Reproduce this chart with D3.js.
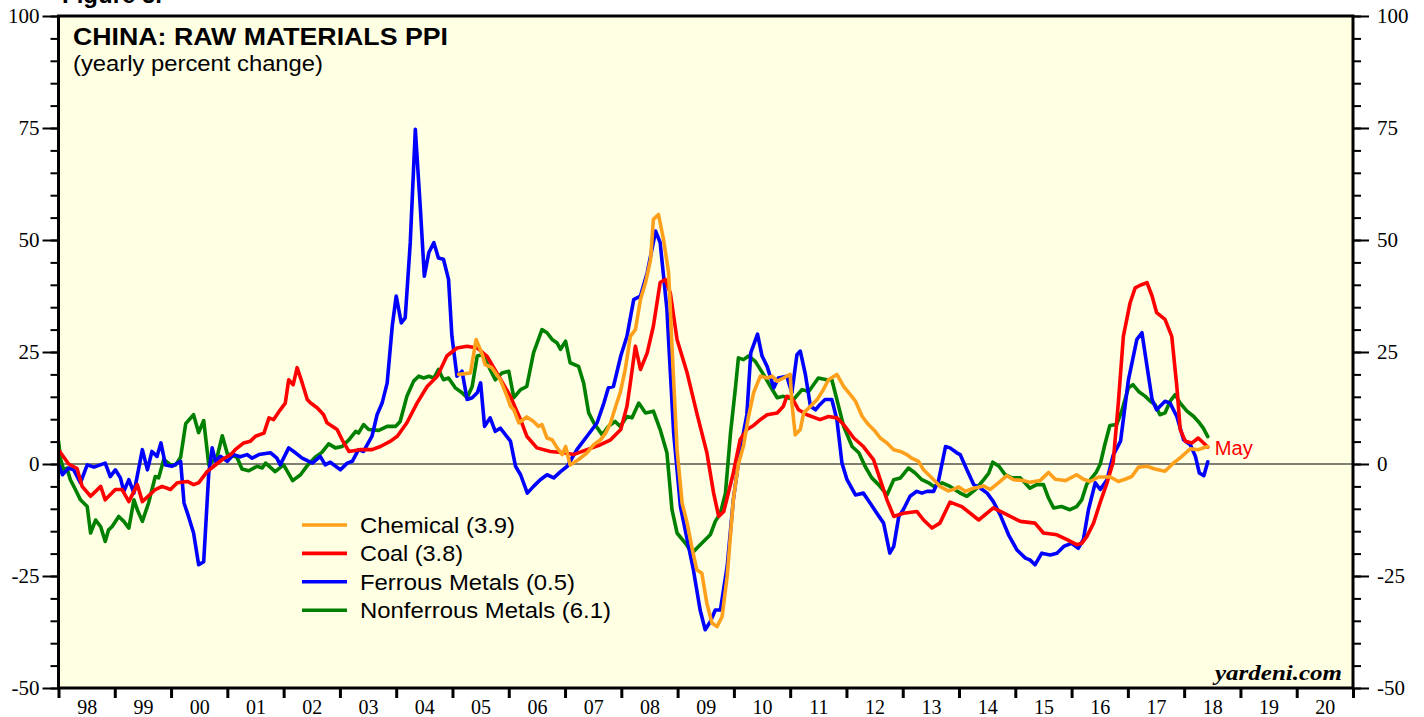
<!DOCTYPE html>
<html>
<head>
<meta charset="utf-8">
<script src="https://cdn.jsdelivr.net/npm/d3@7"></script>
<style>
  html, body { margin: 0; padding: 0; background: #fff; }
  svg { display: block; }
</style>
</head>
<body>
<svg id="chart" width="1424" height="717"></svg>
<script>
/* China: raw materials PPI, yearly percent change (monthly, 1998 - May 2018) */

const yearLabels = ['98','99','00','01','02','03','04','05','06','07','08','09','10','11','12','13','14','15','16','17','18','19','20'];
const legendLabels = ['Chemical (3.9)', 'Coal (3.8)', 'Ferrous Metals (0.5)', 'Nonferrous Metals (6.1)'];
const yTicks = [-50, -25, 0, 25, 50, 75, 100];

// [decimal year, % y/y]
const chemical = [
  [2005.11,20],[2005.32,20.3],[2005.42,27.8],[2005.53,24.4],[2005.58,22.2],[2005.70,21.5],[2005.85,18.8],[2005.97,15.1],
  [2006.03,12.9],[2006.09,12.1],[2006.18,9.2],[2006.32,10.5],[2006.44,9.5],[2006.53,8.4],[2006.59,8.8],[2006.68,5.8],
  [2006.77,5.4],[2006.86,3.6],[2006.95,2.1],[2007.01,3.9],[2007.09,-0.2],[2007.24,1],[2007.39,2.5],[2007.51,4.3],
  [2007.63,5.4],[2007.72,6.9],[2007.81,9.2],[2007.90,12.9],[2007.98,15.9],[2008.07,21.1],[2008.16,28.5],[2008.25,30],
  [2008.34,36.7],[2008.43,40.5],[2008.52,45.7],[2008.57,54.6],[2008.66,55.7],[2008.75,50.1],[2008.84,42.7],[2008.90,26.3],
  [2008.99,3.2],[2009.08,-8.7],[2009.17,-13.2],[2009.25,-18.4],[2009.34,-23.6],[2009.43,-24.4],[2009.52,-31.1],[2009.61,-35.5],
  [2009.70,-36.3],[2009.79,-34.1],[2009.88,-25.1],[2009.99,-8],[2010.08,0],[2010.17,4],[2010.26,10.6],[2010.35,15.9],
  [2010.47,19.6],[2010.59,19.2],[2010.68,19.6],[2010.77,18.5],[2010.88,19.2],[2011.00,20],[2011.03,13.6],[2011.09,6.5],
  [2011.18,7.7],[2011.24,11.4],[2011.33,12.5],[2011.48,14.4],[2011.59,16.6],[2011.68,18.8],[2011.83,20],[2011.95,17.3],
  [2012.07,15.5],[2012.16,14],[2012.28,10.6],[2012.39,8.8],[2012.51,7.3],[2012.60,5.8],[2012.72,4.7],[2012.84,3.2],
  [2012.96,2.8],[2013.07,2.1],[2013.16,1.3],[2013.28,0.6],[2013.37,-1.3],[2013.46,-2.4],[2013.58,-3.9],[2013.66,-5],
  [2013.81,-6],[2013.90,-5.7],[2013.99,-5.1],[2014.11,-6.1],[2014.26,-5.4],[2014.44,-4.9],[2014.55,-5.7],[2014.70,-4.2],
  [2014.85,-2.6],[2014.97,-3.5],[2015.14,-3.7],[2015.26,-4.1],[2015.44,-3.7],[2015.59,-1.9],[2015.71,-3.4],[2015.89,-3.7],
  [2016.09,-2.4],[2016.21,-3.4],[2016.33,-3.9],[2016.48,-2.9],[2016.69,-2.9],[2016.83,-3.9],[2016.95,-3.4],[2017.07,-2.8],
  [2017.19,-0.7],[2017.34,-0.5],[2017.48,-1.1],[2017.66,-1.6],[2017.72,-0.9],[2017.81,0.2],[2017.96,1.7],[2018.11,3.4],
  [2018.25,3.2],[2018.42,3.9]
];

const coal = [
  [1998.00,3.2],[1998.18,0],[1998.33,-1],[1998.42,-5],[1998.57,-7.2],[1998.75,-5],[1998.83,-8],[1999.01,-5.7],
  [1999.13,-5.7],[1999.25,-8.4],[1999.40,-4.6],[1999.49,-8.4],[1999.72,-5.7],[1999.84,-5],[1999.99,-5.7],[2000.11,-4.2],
  [2000.29,-3.9],[2000.40,-4.6],[2000.49,-4.2],[2000.64,-1.7],[2000.76,-0.5],[2000.91,1],[2001.06,2.1],[2001.14,3.2],
  [2001.29,4.7],[2001.41,5.1],[2001.50,6.2],[2001.65,6.9],[2001.74,10.3],[2001.82,9.9],[2001.94,12.1],[2002.03,13.6],
  [2002.09,18.8],[2002.17,17.7],[2002.24,21.5],[2002.33,18.1],[2002.42,14.4],[2002.48,13.6],[2002.60,12.5],[2002.71,11],
  [2002.77,9.2],[2002.95,7.7],[2003.04,5.4],[2003.16,2.8],[2003.36,3.2],[2003.57,3.2],[2003.72,3.9],[2003.90,5.1],
  [2004.02,6.2],[2004.19,9.2],[2004.37,13.6],[2004.55,17.3],[2004.73,19.6],[2004.90,24.1],[2005.08,25.9],[2005.26,26.3],
  [2005.44,25.9],[2005.61,24.1],[2005.79,20.3],[2006.03,15.1],[2006.21,9.9],[2006.32,6.2],[2006.50,3.6],[2006.74,2.8],
  [2006.98,2.5],[2007.15,2.1],[2007.39,3.2],[2007.63,4.3],[2007.81,5.4],[2007.99,7.7],[2008.10,12.9],[2008.16,18.1],
  [2008.25,26.3],[2008.34,21.1],[2008.46,24.8],[2008.57,30.8],[2008.69,40.5],[2008.78,41.2],[2008.87,38.2],[2008.99,27.8],
  [2009.17,20.3],[2009.34,11.4],[2009.52,2.5],[2009.64,-6.5],[2009.73,-11.7],[2009.82,-10.6],[2009.99,-2],[2010.11,5.4],
  [2010.23,7.7],[2010.35,8.6],[2010.47,9.9],[2010.59,11],[2010.77,11.4],[2010.88,12.9],[2010.94,15.1],[2011.03,14.8],
  [2011.15,12.1],[2011.30,11],[2011.53,9.9],[2011.68,10.6],[2011.83,10.3],[2011.95,8.8],[2012.13,5.8],[2012.30,3.9],
  [2012.48,1],[2012.60,-3.5],[2012.72,-8],[2012.84,-11.7],[2013.01,-11],[2013.25,-10.6],[2013.37,-12.5],[2013.52,-14.3],
  [2013.66,-13.2],[2013.84,-8.5],[2014.05,-9.5],[2014.35,-12.5],[2014.61,-9.8],[2014.85,-11.3],[2015.09,-12.8],[2015.35,-13.2],
  [2015.50,-15.4],[2015.74,-15.8],[2015.92,-16.9],[2016.09,-18],[2016.18,-17.7],[2016.27,-16.2],[2016.39,-13.2],[2016.51,-8.5],
  [2016.63,-4.2],[2016.74,0.5],[2016.83,13.6],[2016.92,28.5],[2017.04,36],[2017.13,39.3],[2017.22,39.9],[2017.34,40.5],
  [2017.43,37.5],[2017.51,33.8],[2017.66,32.3],[2017.78,28.5],[2017.87,17.3],[2017.93,7.7],[2018.02,5.1],[2018.14,4.7],
  [2018.25,5.8],[2018.42,3.8]
];

const ferrous = [
  [1998.00,0],[1998.07,-2.4],[1998.18,-0.9],[1998.27,-1.3],[1998.39,-4.2],[1998.51,-0.2],[1998.63,-0.7],[1998.83,0.2],
  [1998.92,-2.8],[1999.01,-1.3],[1999.10,-3.1],[1999.16,-6.1],[1999.25,-3.5],[1999.34,-6.5],[1999.49,3.2],[1999.58,-1.3],
  [1999.66,2.8],[1999.75,1.7],[1999.82,4.7],[1999.90,-0.2],[2000.02,-0.5],[2000.17,0.6],[2000.23,-8.7],[2000.31,-11.7],
  [2000.40,-15.4],[2000.49,-22.5],[2000.58,-21.8],[2000.67,-2],[2000.73,3.6],[2000.79,0.6],[2000.88,1.7],[2001.00,0.6],
  [2001.11,2.1],[2001.23,1.6],[2001.35,2.1],[2001.44,1.3],[2001.56,2.1],[2001.77,2.5],[2001.88,1.3],[2001.94,-0.2],
  [2002.09,3.6],[2002.21,2.5],[2002.33,1.3],[2002.51,0.2],[2002.65,1.7],[2002.74,-0.2],[2002.83,0.4],[2003.01,-1.3],
  [2003.13,0.2],[2003.22,0.6],[2003.33,3.2],[2003.42,2.8],[2003.57,6.2],[2003.66,11],[2003.75,13.6],[2003.84,18.1],
  [2003.93,30.8],[2004.00,37.5],[2004.09,31.5],[2004.16,32.6],[2004.25,49.4],[2004.34,74.7],[2004.43,56.9],[2004.50,41.9],
  [2004.58,47.2],[2004.67,49.4],[2004.75,46],[2004.84,45.7],[2004.93,41.2],[2004.99,28.5],[2005.08,19.6],[2005.17,20.7],
  [2005.26,14.4],[2005.35,14.8],[2005.44,15.9],[2005.50,18.1],[2005.57,8.4],[2005.67,10.3],[2005.76,7.3],[2005.85,8],
  [2006.03,5.1],[2006.12,-0.5],[2006.21,-2.4],[2006.33,-6.5],[2006.44,-5],[2006.56,-3.5],[2006.68,-2.4],[2006.80,-3.1],
  [2006.92,-1.7],[2007.04,-0.5],[2007.21,3.2],[2007.39,6.2],[2007.57,9.2],[2007.69,13.6],[2007.77,17],[2007.86,17.3],
  [2007.99,24.1],[2008.10,28.5],[2008.22,36.7],[2008.34,37.5],[2008.46,42.7],[2008.61,52],[2008.69,49.4],[2008.81,34.5],
  [2008.93,6.9],[2009.05,-9.5],[2009.17,-16.9],[2009.28,-23.6],[2009.40,-32.6],[2009.49,-37],[2009.58,-35.2],[2009.67,-32.6],
  [2009.76,-32.6],[2009.88,-22.9],[2009.99,-8],[2010.11,3],[2010.23,11],[2010.30,24.8],[2010.42,29],[2010.50,24.1],
  [2010.59,21.8],[2010.71,17],[2010.79,19.2],[2010.94,19.6],[2011.03,15.9],[2011.12,24.4],[2011.18,25.2],[2011.27,20],
  [2011.36,12.9],[2011.45,12.1],[2011.53,13.3],[2011.62,14.4],[2011.74,14.4],[2011.83,9.9],[2011.92,0.2],[2012.01,-3.5],
  [2012.16,-6.9],[2012.30,-6.5],[2012.42,-8.7],[2012.54,-11],[2012.66,-13.2],[2012.77,-19.9],[2012.84,-18.4],[2012.93,-11.7],
  [2013.01,-10.2],[2013.13,-7.2],[2013.25,-6.1],[2013.34,-6.5],[2013.43,-6.1],[2013.55,-6.1],[2013.64,-3.5],[2013.76,3.9],
  [2013.84,3.6],[2013.96,2.5],[2014.02,2.1],[2014.14,-1.3],[2014.26,-4.6],[2014.38,-5.4],[2014.50,-6.5],[2014.61,-8.4],
  [2014.73,-11.3],[2014.88,-15.8],[2015.03,-19.2],[2015.18,-21],[2015.26,-21.4],[2015.35,-22.5],[2015.47,-19.9],[2015.62,-20.3],
  [2015.74,-19.9],[2015.86,-18.4],[2016.00,-17.7],[2016.12,-18.8],[2016.21,-16.8],[2016.30,-10.2],[2016.42,-4.2],[2016.51,-5.7],
  [2016.63,-3.5],[2016.74,2],[2016.87,5.1],[2016.93,11],[2017.01,18.8],[2017.16,27.8],[2017.25,29.3],[2017.34,21.8],
  [2017.43,14.4],[2017.51,12.1],[2017.66,14],[2017.75,13.6],[2017.87,10.6],[2017.99,5.4],[2018.11,4.3],[2018.20,1.7],
  [2018.27,-2],[2018.35,-2.6],[2018.42,0.5]
];

const nonferrous = [
  [1998.00,5.1],[1998.04,1],[1998.09,-1.3],[1998.15,-0.9],[1998.21,-3.5],[1998.30,-5.7],[1998.39,-8],[1998.51,-9.5],
  [1998.57,-15.4],[1998.66,-12.5],[1998.75,-14],[1998.83,-17.3],[1998.89,-14.7],[1998.95,-14],[1999.07,-11.7],[1999.16,-12.8],
  [1999.25,-14.3],[1999.34,-8],[1999.40,-10.2],[1999.49,-12.8],[1999.60,-8.7],[1999.72,-2.8],[1999.78,-3.1],[1999.87,1],
  [1999.99,-0.2],[2000.08,-0.2],[2000.17,1.5],[2000.26,9],[2000.40,11],[2000.49,7],[2000.58,9.7],[2000.67,-0.2],
  [2000.82,1.7],[2000.91,6.3],[2001.00,2.3],[2001.17,1.5],[2001.26,-1.1],[2001.38,-1.5],[2001.53,-0.5],[2001.62,-0.9],
  [2001.68,0.2],[2001.85,-1.7],[2002.00,-0.2],[2002.16,-3.7],[2002.30,-2.4],[2002.43,-0.2],[2002.56,1.5],[2002.68,2.6],
  [2002.80,4.5],[2002.92,3.6],[2003.04,3.9],[2003.16,5.4],[2003.28,7.3],[2003.33,6.9],[2003.42,8.8],[2003.51,7.7],
  [2003.69,7.5],[2003.84,8.4],[2003.99,8.4],[2004.07,9.5],[2004.19,15.1],[2004.31,18.5],[2004.40,19.6],[2004.49,19.2],
  [2004.58,19.6],[2004.67,19.2],[2004.75,21.1],[2004.84,18.8],[2004.93,19.2],[2005.05,17],[2005.17,15.9],[2005.26,14.8],
  [2005.35,17.3],[2005.44,24.1],[2005.53,24.4],[2005.61,22.6],[2005.76,18.8],[2005.88,20.3],[2006.00,20.7],[2006.09,14.8],
  [2006.21,16.6],[2006.32,17.3],[2006.44,24.8],[2006.59,30],[2006.68,29.3],[2006.77,27.8],[2006.86,27],[2006.92,25.6],
  [2007.01,27.4],[2007.09,22.6],[2007.24,21.8],[2007.33,18.1],[2007.42,11.4],[2007.51,9.2],[2007.66,6.5],[2007.77,8.4],
  [2007.89,9.5],[2007.98,8.4],[2008.10,10.6],[2008.19,10.3],[2008.31,13.6],[2008.43,11.4],[2008.57,11.8],[2008.69,7.7],
  [2008.81,2.5],[2008.90,-10.2],[2008.99,-15.4],[2009.14,-17.7],[2009.26,-19.9],[2009.34,-18.8],[2009.46,-17.3],[2009.58,-15.8],
  [2009.67,-12.8],[2009.76,-11],[2009.85,-6.5],[2009.94,6.9],[2010.03,17.3],[2010.08,23.7],[2010.17,23.3],[2010.26,24.1],
  [2010.38,22.9],[2010.53,19.9],[2010.65,17.3],[2010.77,14.8],[2010.88,15.1],[2011.06,14.4],[2011.21,16.6],[2011.33,16.2],
  [2011.50,19.2],[2011.65,18.8],[2011.74,18.8],[2011.83,14.4],[2011.95,8.4],[2012.10,3.9],[2012.22,2.5],[2012.33,-0.5],
  [2012.45,-3.1],[2012.57,-4.6],[2012.72,-6.9],[2012.84,-3.5],[2012.96,-3.1],[2013.10,-0.9],[2013.22,-2],[2013.34,-3.5],
  [2013.46,-4.2],[2013.55,-5],[2013.70,-4.2],[2013.84,-5],[2014.02,-6.5],[2014.14,-7.2],[2014.29,-5.7],[2014.44,-3.5],
  [2014.53,-2],[2014.60,0.4],[2014.71,-0.5],[2014.82,-2.4],[2014.94,-3.1],[2015.09,-3.1],[2015.26,-5.4],[2015.38,-4.6],
  [2015.50,-4.6],[2015.59,-7.6],[2015.68,-9.8],[2015.82,-9.5],[2015.97,-10.2],[2016.09,-9.5],[2016.18,-8],[2016.27,-4.5],
  [2016.44,-1.8],[2016.51,0],[2016.59,4.3],[2016.68,8.6],[2016.80,8.8],[2016.89,11.8],[2017.01,17],[2017.09,17.7],
  [2017.19,16.2],[2017.31,15.1],[2017.40,14],[2017.48,13.3],[2017.57,11],[2017.66,11.4],[2017.75,14],[2017.84,15.5],
  [2017.93,13.6],[2018.05,11.8],[2018.17,10.6],[2018.25,9.5],[2018.34,8],[2018.42,6.1]
];

const series = [
  { name: 'nonferrous', values: nonferrous, color: '#008000' },
  { name: 'ferrous', values: ferrous, color: '#0000ff' },
  { name: 'coal', values: coal, color: '#ff0000' },
  { name: 'chemical', values: chemical, color: '#ffa01c' }
];
const legendColors = ['#ffa01c', '#ff0000', '#0000ff', '#008000'];

const W = 1424, H = 717;
const margin = { top: 16, right: 71, bottom: 29, left: 58.5 };
const iw = W - margin.left - margin.right;
const ih = H - margin.top - margin.bottom;

const svg = d3.select('#chart');
const g = svg.append('g').attr('transform', `translate(${margin.left},${margin.top})`);

const x = d3.scaleLinear().domain([1998, 2021]).range([0, iw]);
const y = d3.scaleLinear().domain([-50, 100]).range([ih, 0]);

// stretch a text to a target width (the original lettering is wide)
function fitWidth(sel, w) {
  sel.attr('textLength', w).attr('lengthAdjust', 'spacingAndGlyphs');
}

// cut-off caption at the very top
svg.append('text')
  .attr('x', 62).attr('y', 3)
  .attr('font-family', 'Liberation Sans, Arial, sans-serif')
  .attr('font-weight', 'bold').attr('font-size', 24)
  .text('Figure 5.');

// plot background
g.append('rect')
  .attr('width', iw).attr('height', ih)
  .attr('fill', '#ffffe4');

// zero line
g.append('line')
  .attr('x1', 0).attr('x2', iw)
  .attr('y1', y(0)).attr('y2', y(0))
  .attr('stroke', '#000').attr('stroke-width', 1.2);

// axes
const serif = 'Liberation Serif, Times New Roman, serif';

function styleAxis(sel, width) {
  sel.select('.domain').remove();
  sel.selectAll('line').attr('stroke', '#000').attr('stroke-width', width);
  sel.selectAll('text').attr('font-family', serif).attr('font-size', 21).attr('fill', '#000');
}

const plain = d => String(d);   // plain hyphen for negatives, like the original
const minorY = d3.range(-50, 101, 5);
g.append('g').call(d3.axisLeft(y).tickValues(minorY).tickSize(8).tickFormat(''))
  .call(s => styleAxis(s, 2));
g.append('g').call(d3.axisLeft(y).tickValues(yTicks).tickSize(16).tickPadding(3).tickFormat(plain))
  .call(s => styleAxis(s, 2));
g.append('g').attr('transform', `translate(${iw},0)`)
  .call(d3.axisRight(y).tickValues(minorY).tickSize(8).tickFormat(''))
  .call(s => styleAxis(s, 2));
g.append('g').attr('transform', `translate(${iw},0)`)
  .call(d3.axisRight(y).tickValues(yTicks).tickSize(16).tickPadding(8).tickFormat(plain))
  .call(s => styleAxis(s, 2));

g.append('g').attr('transform', `translate(0,${ih})`)
  .call(d3.axisBottom(x).tickValues(d3.range(1998, 2022)).tickSize(10).tickFormat(''))
  .call(s => styleAxis(s, 3));
g.append('g').attr('transform', `translate(0,${ih})`)
  .call(d3.axisBottom(x).tickValues(d3.range(1998.5, 2021, 1)).tickSize(0)
    .tickFormat((d, i) => yearLabels[i]))
  .call(s => styleAxis(s, 0))
  .call(s => s.selectAll('text').attr('font-size', 20).attr('y', 26).attr('dy', 0));

// series
g.append('clipPath').attr('id', 'plot-clip')
  .append('rect').attr('width', iw).attr('height', ih);

const line = d3.line().x(d => x(d[0])).y(d => y(d[1]));
g.append('g').attr('clip-path', 'url(#plot-clip)')
  .selectAll('path').data(series).join('path')
  .attr('d', d => line(d.values))
  .attr('fill', 'none')
  .attr('stroke', d => d.color)
  .attr('stroke-width', 3.6)
  .attr('stroke-linejoin', 'round')
  .attr('stroke-linecap', 'round');

// frame
g.append('rect')
  .attr('width', iw).attr('height', ih)
  .attr('fill', 'none').attr('stroke', '#000').attr('stroke-width', 3);

// titles
const sans = 'Liberation Sans, Arial, Helvetica, sans-serif';
svg.append('text').attr('x', 73).attr('y', 45)
  .attr('font-family', sans).attr('font-weight', 'bold').attr('font-size', 24)
  .text('CHINA: RAW MATERIALS PPI')
  .call(fitWidth, 375);
svg.append('text').attr('x', 73).attr('y', 71)
  .attr('font-family', sans).attr('font-size', 22)
  .text('(yearly percent change)')
  .call(fitWidth, 250);

// legend
const legendWidths = [155, 103, 215, 251];
const lg = svg.append('g').attr('transform', 'translate(302,525)');
legendLabels.forEach((lab, i) => {
  const row = lg.append('g').attr('transform', `translate(0,${i * 28.4})`);
  row.append('line').attr('x1', 0).attr('x2', 45)
    .attr('stroke', legendColors[i]).attr('stroke-width', 3.6);
  row.append('text').attr('x', 58).attr('y', 8)
    .attr('font-family', sans).attr('font-size', 22).attr('fill', '#000')
    .text(lab)
    .call(fitWidth, legendWidths[i]);
});

// last-month tag
const last = coal[coal.length - 1];
svg.append('text')
  .attr('x', margin.left + x(last[0]) + 7)
  .attr('y', margin.top + y(last[1]) + 8)
  .attr('font-family', sans).attr('font-size', 20).attr('fill', '#ff0000')
  .text('May')
  .call(fitWidth, 38);

// source
svg.append('text')
  .attr('x', 1342).attr('y', 680)
  .attr('text-anchor', 'end')
  .attr('font-family', serif).attr('font-weight', 'bold').attr('font-style', 'italic')
  .attr('font-size', 21)
  .text('yardeni.com')
  .call(fitWidth, 127);
</script>
</body>
</html>
